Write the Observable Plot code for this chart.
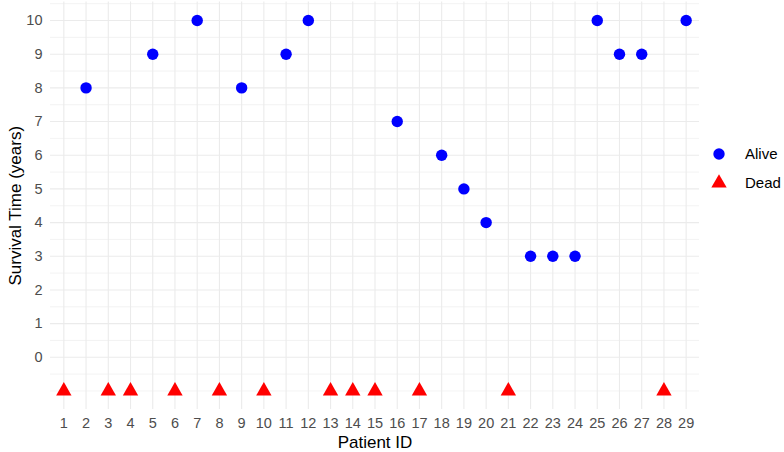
<!DOCTYPE html>
<html>
<head>
<meta charset="utf-8">
<script src="https://cdn.jsdelivr.net/npm/d3@7"></script>
<script src="https://cdn.jsdelivr.net/npm/@observablehq/plot@0.6"></script>
<style>
  html, body { margin: 0; padding: 0; background: #fff; }
  #wrap { position: relative; width: 784px; height: 452px; font-family: "Liberation Sans", Arial, sans-serif; }
  #legend { position: absolute; left: 710px; top: 139px; font-size: 15px; color: #000; }
  .row { display: flex; align-items: center; height: 29px; }
  .row svg { margin-right: 17px; }
</style>
</head>
<body>
<div id="wrap"></div>
<script>
// ---- data ----
const patientIds = [1,2,3,4,5,6,7,8,9,10,11,12,13,14,15,16,17,18,19,20,21,22,23,24,25,26,27,28,29];
const survivalYears = [-1,8,-1,-1,9,-1,10,-1,8,-1,9,10,-1,-1,-1,7,-1,6,5,4,-1,3,3,3,10,9,9,-1,10];
const statuses = ["Dead","Alive","Dead","Dead","Alive","Dead","Alive","Dead","Alive","Dead","Alive","Alive","Dead","Dead","Dead","Alive","Dead","Alive","Alive","Alive","Dead","Alive","Alive","Alive","Alive","Alive","Alive","Dead","Alive"];
const statusLevels = ["Alive", "Dead"];
const statusColors = ["#0000FF", "#FF0000"];
const statusSymbols = ["circle", "triangle"];
const yTicks = [0,1,2,3,4,5,6,7,8,9,10];
const yMinor = [-1,-0.5,0.5,1.5,2.5,3.5,4.5,5.5,6.5,7.5,8.5,9.5,10.5];

const rows = patientIds.map((id, i) => ({id, time: survivalYears[i], status: statuses[i]}));

const W = 784, H = 452;
const chart = Plot.plot({
  width: W, height: H,
  marginLeft: 50, marginRight: 85, marginTop: 1.5, marginBottom: 43,
  style: {fontFamily: "Liberation Sans, Arial, sans-serif", background: "#fff"},
  x: {domain: [0.4, 29.6]},
  y: {domain: [-1.55, 10.55]},
  color: {domain: statusLevels, range: statusColors},
  symbol: {domain: statusLevels, range: statusSymbols},
  marks: [
    Plot.ruleY(yMinor, {stroke: "#ebebeb", strokeWidth: 0.6}),
    Plot.ruleY(yTicks, {stroke: "#ebebeb", strokeWidth: 1.1}),
    Plot.ruleX(patientIds, {stroke: "#ebebeb", strokeWidth: 1.1}),
    Plot.axisY({ticks: yTicks, tickSize: 0, tickPadding: 8, fontSize: 14.5, color: "#4d4d4d",
      label: null}),
    Plot.axisX({ticks: patientIds, tickSize: 0, tickPadding: 8, fontSize: 14.5, color: "#4d4d4d",
      tickFormat: d => String(d), label: null}),
    Plot.text(["Patient ID"], {frameAnchor: "bottom", dy: 38, fontSize: 17, fill: "#000", lineAnchor: "bottom"}),
    Plot.text(["Survival Time (years)"], {frameAnchor: "left", dx: -35, rotate: -90, textAnchor: "middle", fontSize: 17, fill: "#000"}),
    Plot.dot(rows, {x: "id", y: "time", fill: "status", symbol: "status", r: 5.7, stroke: null})
  ]
});
document.getElementById("wrap").appendChild(chart);

// legend
const leg = document.createElement("div");
leg.id = "legend";
statusLevels.forEach((lvl, i) => {
  const row = document.createElement("div");
  row.className = "row";
  const sym = d3.symbol(statusSymbols[i] === "circle" ? d3.symbolCircle : d3.symbolTriangle, Math.PI * 5.7 * 5.7);
  row.innerHTML = `<svg width="18" height="18"><path transform="translate(9,9)" d="${sym()}" fill="${statusColors[i]}"/></svg><span>${lvl}</span>`;
  leg.appendChild(row);
});
document.getElementById("wrap").appendChild(leg);
</script>
</body>
</html>
